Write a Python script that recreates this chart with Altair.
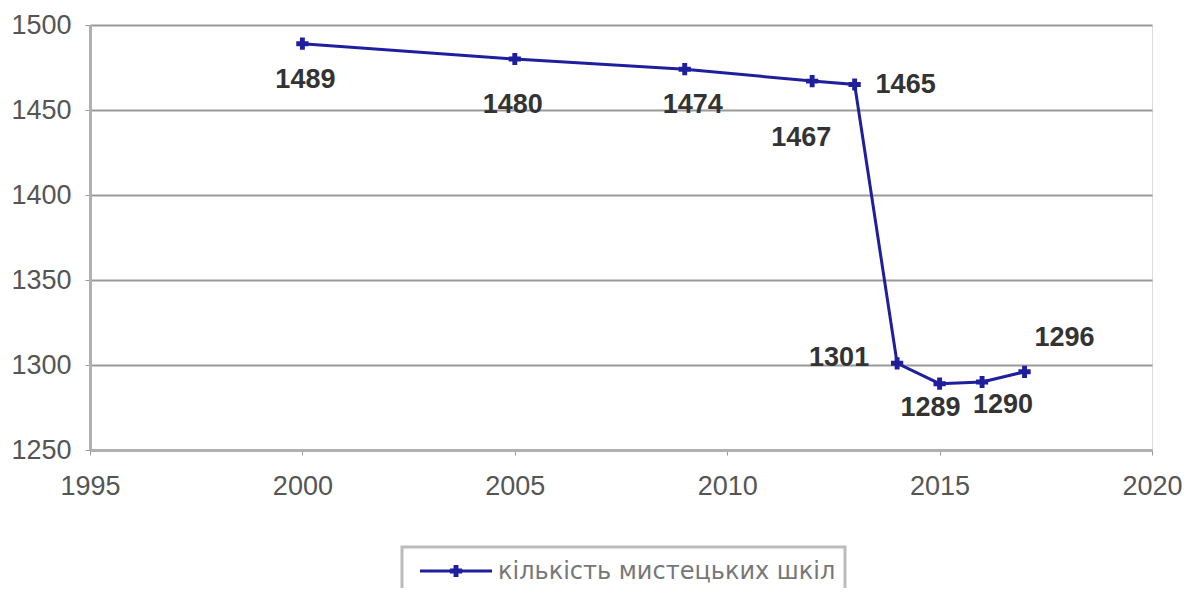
import altair as alt
import pandas as pd

years = [2000, 2005, 2009, 2012, 2013, 2014, 2015, 2016, 2017]
values = [1489, 1480, 1474, 1467, 1465, 1301, 1289, 1290, 1296]
series_name = "кількість мистецьких шкіл"
x_ticks = [1995, 2000, 2005, 2010, 2015, 2020]
y_ticks = [1250, 1300, 1350, 1400, 1450, 1500]

df = pd.DataFrame({"year": years, "value": values, "series": [series_name] * len(years)})
legend_df = pd.DataFrame({"series": [series_name]})

LINE = "#1f1f9e"
FONT = "Liberation Sans"

x = alt.X("year:Q", scale=alt.Scale(domain=[1995, 2020], nice=False, zero=False),
          axis=alt.Axis(values=x_ticks, format="d", title=None, grid=False,
                        labelFontSize=27, labelColor="#555555", labelFont=FONT,
                        labelPadding=18, tickSize=5, tickColor="#999999",
                        domainColor="#b0b0b0", domainWidth=3, labelFlush=False))
y = alt.Y("value:Q", scale=alt.Scale(domain=[1250, 1500], nice=False, zero=False),
          axis=alt.Axis(values=y_ticks, format="d", title=None, grid=True, gridColor="#999999",
                        gridWidth=2, labelFontSize=27, labelColor="#555555", labelFont=FONT,
                        labelPadding=14, tickSize=5, tickColor="#999999",
                        domainColor="#b0b0b0", domainWidth=3))

line = alt.Chart(df).mark_line(strokeWidth=3, color=LINE).encode(x=x, y=y)
pts = alt.Chart(df).mark_point(shape="cross", filled=True, size=150, opacity=1,
                               color=LINE).encode(x=x, y=y)

offsets = {2000: (3, 36), 2005: (-2, 46), 2009: (8, 36), 2012: (-11, 57), 2013: (51, 0),
           2014: (-58, -5), 2015: (-9, 24), 2016: (21, 23), 2017: (40, -34)}

labels = []
for yr, (dx, dy) in offsets.items():
    labels.append(
        alt.Chart(df).transform_filter(alt.datum.year == yr)
        .mark_text(dx=dx, dy=dy, fontSize=27, fontWeight="bold", font=FONT,
                   color="#333333", align="center", baseline="middle")
        .encode(x=x, y=y, text="value:Q")
    )

# legend box (drawn manually below the plot area)
leg_box = alt.Chart(legend_df).mark_rect(fill="white", stroke="#bbbbbb", strokeWidth=3).encode(
    x=alt.value(312), x2=alt.value(755), y=alt.value(522), y2=alt.value(566))
leg_line = alt.Chart(legend_df).mark_rule(color=LINE, strokeWidth=3).encode(
    x=alt.value(330), x2=alt.value(402), y=alt.value(546))
leg_pt = alt.Chart(legend_df).mark_point(shape="cross", filled=True, size=150, opacity=1,
                                         color=LINE).encode(x=alt.value(366), y=alt.value(546))
leg_txt = alt.Chart(legend_df).mark_text(align="left", baseline="middle", fontSize=24,
                                         font="DejaVu Sans", color="#777777").encode(
    x=alt.value(408), y=alt.value(547), text="series:N")

chart = alt.layer(line, pts, *labels, leg_box, leg_line, leg_pt, leg_txt).properties(
    width=1062, height=425,
    autosize=alt.AutoSizeParams(type="none"),
    padding={"left": 82, "top": 17, "right": 33, "bottom": 138},
).configure_view(fill="#d9d9d9", stroke=None).configure(background="white")

chart.save("out.html", embed_options={"renderer": "svg", "actions": False})
